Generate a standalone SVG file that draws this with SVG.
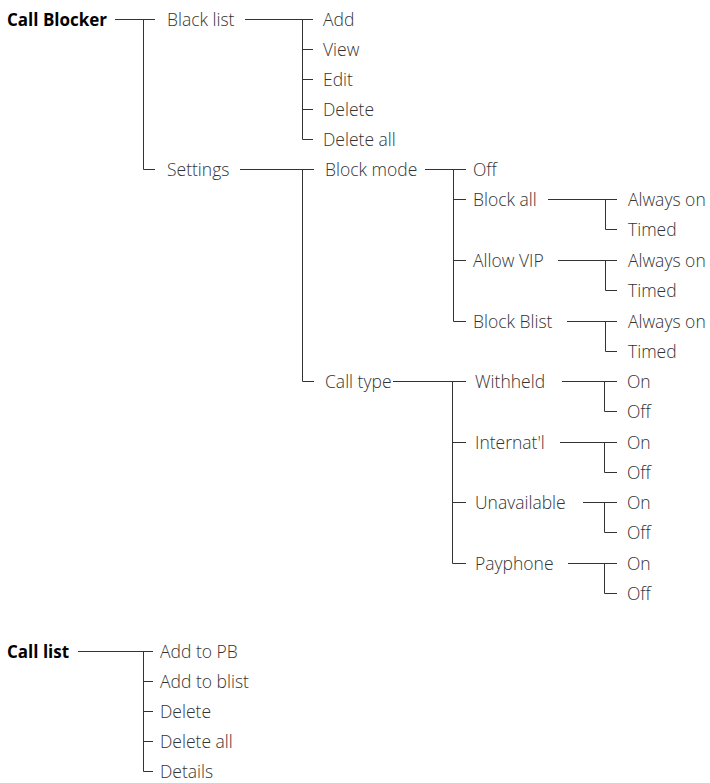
<svg xmlns="http://www.w3.org/2000/svg" width="710" height="783" viewBox="0 0 710 783">
<style>
text{font-family:"Open Sans","Noto Sans",sans-serif;font-size:17.5px;font-weight:300;fill:#333}
text.h{font-size:17px;font-weight:bold;fill:#000}
#connectors path{fill:none;stroke:#333;stroke-width:1}
</style>
<rect width="710" height="783" fill="#fff"/>
<g id="connectors">
<path d="M115 19.5H155M143.5 19.5V169.5H155"/>
<path d="M245 19.5H313M302.5 19.5V139.5H313M302.5 49.5H313M302.5 79.5H313M302.5 109.5H313"/>
<path d="M240 169.5H314M302.5 169.5V381.5H314"/>
<path d="M425 169.5H466M453.5 169.5V321.5H466M453.5 199.5H466M453.5 260.5H466"/>
<path d="M548 199.5H617M605.5 199.5V229.5H617"/>
<path d="M558 260.5H617M605.5 260.5V290.5H617"/>
<path d="M567 321.5H617M605.5 321.5V351.5H617"/>
<path d="M393 381.5H466M452.5 381.5V563.5H466M452.5 442.5H466M452.5 502.5H466"/>
<path d="M562 381.5H617M604.5 381.5V411.5H617"/>
<path d="M560 442.5H617M604.5 442.5V472.5H617"/>
<path d="M583 502.5H617M604.5 502.5V532.5H617"/>
<path d="M568 563.5H617M604.5 563.5V593.5H617"/>
<path d="M78 651.5H153M143.5 651.5V771.5H153M143.5 681.5H153M143.5 711.5H153M143.5 741.5H153"/>
</g>
<g id="call-blocker"><text class="h" x="7" y="25.5">Call Blocker</text></g>
<g id="black-list"><text x="167" y="25.5">Black list</text></g>
<g id="bl-add"><text x="323" y="25.5">Add</text></g>
<g id="bl-view"><text x="323" y="55.5">View</text></g>
<g id="bl-edit"><text x="323" y="85.5">Edit</text></g>
<g id="bl-delete"><text x="323" y="115.5">Delete</text></g>
<g id="bl-delete-all"><text x="323" y="145.5">Delete all</text></g>
<g id="settings"><text x="167" y="175.5">Settings</text></g>
<g id="block-mode"><text x="325" y="175.5">Block mode</text></g>
<g id="bm-off"><text x="473" y="175.5">Off</text></g>
<g id="block-all"><text x="473" y="205.5">Block all</text></g>
<g id="ba-always"><text x="628" y="205.5">Always on</text></g>
<g id="ba-timed"><text x="628" y="235.5">Timed</text></g>
<g id="allow-vip"><text x="473" y="266.5">Allow VIP</text></g>
<g id="av-always"><text x="628" y="266.5">Always on</text></g>
<g id="av-timed"><text x="628" y="296.5">Timed</text></g>
<g id="block-blist"><text x="473" y="327.5">Block Blist</text></g>
<g id="bb-always"><text x="628" y="327.5">Always on</text></g>
<g id="bb-timed"><text x="628" y="357.5">Timed</text></g>
<g id="call-type"><text x="325" y="387.5">Call type</text></g>
<g id="withheld"><text x="475" y="387.5">Withheld</text></g>
<g id="wh-on"><text x="627" y="387.5">On</text></g>
<g id="wh-off"><text x="627" y="417.5">Off</text></g>
<g id="internatl"><text x="475" y="448.5">Internat'l</text></g>
<g id="in-on"><text x="627" y="448.5">On</text></g>
<g id="in-off"><text x="627" y="478.5">Off</text></g>
<g id="unavailable"><text x="475" y="508.5">Unavailable</text></g>
<g id="un-on"><text x="627" y="508.5">On</text></g>
<g id="un-off"><text x="627" y="538.5">Off</text></g>
<g id="payphone"><text x="475" y="569.5">Payphone</text></g>
<g id="pp-on"><text x="627" y="569.5">On</text></g>
<g id="pp-off"><text x="627" y="599.5">Off</text></g>
<g id="call-list"><text class="h" x="7" y="657.5">Call list</text></g>
<g id="cl-add-pb"><text x="160" y="657.5">Add to PB</text></g>
<g id="cl-add-blist"><text x="160" y="687.5">Add to blist</text></g>
<g id="cl-delete"><text x="160" y="717.5">Delete</text></g>
<g id="cl-delete-all"><text x="160" y="747.5">Delete all</text></g>
<g id="cl-details"><text x="160" y="777.5">Details</text></g>
</svg>
